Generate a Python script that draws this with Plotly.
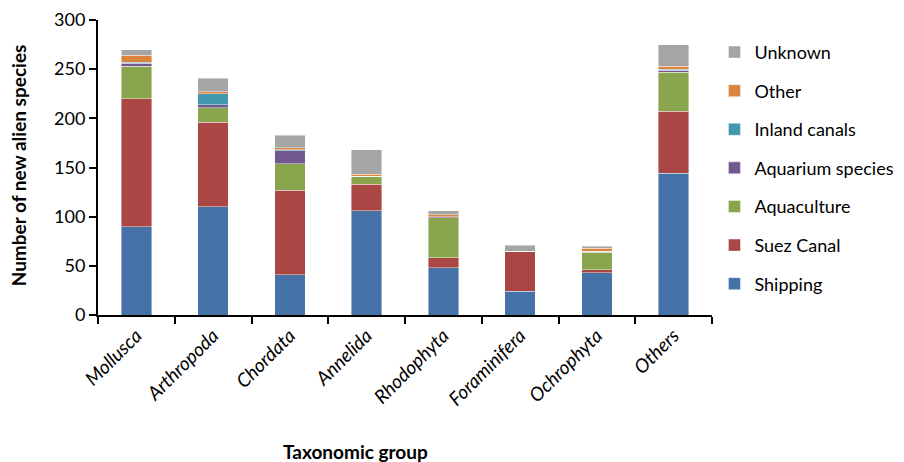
import plotly.graph_objects as go

categories = ["Mollusca", "Arthropoda", "Chordata", "Annelida", "Rhodophyta",
              "Foraminifera", "Ochrophyta", "Others"]

shipping = [90, 110, 41, 106, 48, 24, 43, 144]
suez_canal = [130, 86, 86, 27, 10, 41, 3, 63]
aquaculture = [33, 15, 27, 8, 41, 0, 18, 40]
aquarium = [3, 3, 13, 0, 1, 0, 1, 2]
inland_canals = [1, 11, 1, 0, 0, 0, 0, 1]
other = [7, 2, 2, 2, 2, 0, 3, 3]
unknown = [6, 14, 13, 25, 4, 6, 2, 22]

series = [
    ("Shipping", shipping, "#4572A7"),
    ("Suez Canal", suez_canal, "#AA4643"),
    ("Aquaculture", aquaculture, "#89A54E"),
    ("Aquarium species", aquarium, "#71588F"),
    ("Inland canals", inland_canals, "#4198AF"),
    ("Other", other, "#DB843D"),
    ("Unknown", unknown, "#A5A5A5"),
]

FONT = "Lato"

fig = go.Figure()
n = len(series)
for i, (name, vals, color) in enumerate(series):
    fig.add_trace(go.Bar(
        x=categories, y=vals, name=name, legendgroup=name,
        legendrank=n - i,
        marker=dict(color=color, line=dict(color="rgba(255,255,255,0.6)", width=0.7)),
        width=0.4,
    ))

fig.update_layout(
    template="none",
    barmode="stack",
    width=904, height=462,
    margin=dict(l=98, r=192, t=20, b=147, autoexpand=False),
    plot_bgcolor="white", paper_bgcolor="white",
    font=dict(family=FONT, size=19, color="black"),
    showlegend=True,
    legend=dict(
        traceorder="grouped", tracegroupgap=12.2,
        x=1.004, y=0.953, xanchor="left", yanchor="top",
        font=dict(family=FONT, size=18, color="black"),
        bgcolor="rgba(0,0,0,0)", itemwidth=30,
    ),
    xaxis=dict(
        showline=True, linecolor="black", linewidth=2,
        ticks="outside", ticklen=7, tickcolor="black", tickwidth=1.5,
        tickson="boundaries", tickangle=-45,
        tickfont=dict(family=FONT, size=19, style="italic"),
        showgrid=False, automargin=False,
    ),
    yaxis=dict(
        range=[0, 300], dtick=50,
        showline=True, linecolor="black", linewidth=2,
        ticks="outside", ticklen=7, tickcolor="black", tickwidth=1.5,
        showgrid=False, zeroline=False, automargin=False,
        tickfont=dict(family=FONT, size=18),
    ),
    annotations=[
        dict(text="<b>Taxonomic group</b>", xref="paper", yref="paper",
             x=0.4186, y=-0.464, showarrow=False,
             font=dict(family=FONT, size=19), xanchor="center", yanchor="middle"),
        dict(text="<b>Number of new alien species</b>", xref="paper", yref="paper",
             x=-0.130, y=0.508, showarrow=False, textangle=-90,
             font=dict(family=FONT, size=19), xanchor="center", yanchor="middle"),
    ],
)

fig.write_html("out.html", config={"displayModeBar": False},
               post_script="document.body.style.margin='0';document.body.style.padding='0';")
